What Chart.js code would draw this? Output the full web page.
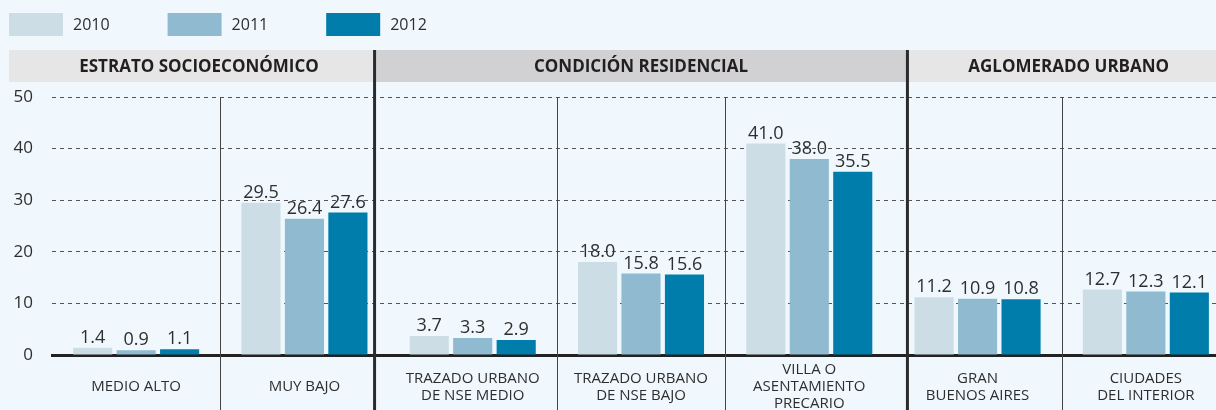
<!DOCTYPE html>
<html>
  <head>
    <meta charset="utf-8" />
    <title>Estrato, condición residencial y aglomerado</title>
    <style>
      body { margin: 0; background: #f0f8fe; overflow: hidden; }
      canvas { display: block; }
    </style>
  </head>
  <body>
    <canvas id="chart" width="1230" height="410"></canvas>
    <script src="https://cdn.jsdelivr.net/npm/chart.js@4.4.0/dist/chart.umd.min.js"></script>
    <script>
      const categories = [
        "MEDIO ALTO",
        "MUY BAJO",
        ["TRAZADO URBANO", "DE NSE MEDIO"],
        ["TRAZADO URBANO", "DE NSE BAJO"],
        ["VILLA O", "ASENTAMIENTO", "PRECARIO"],
        ["GRAN", "BUENOS AIRES"],
        ["CIUDADES", "DEL INTERIOR"],
      ];
      const years = ["2010", "2011", "2012"];
      const vals2010 = [1.4, 29.5, 3.7, 18.0, 41.0, 11.2, 12.7];
      const vals2011 = [0.9, 26.4, 3.3, 15.8, 38.0, 10.9, 12.3];
      const vals2012 = [1.1, 27.6, 2.9, 15.6, 35.5, 10.8, 12.1];
      const yTicks = [0, 10, 20, 30, 40, 50];
      const sections = ["ESTRATO SOCIOECONÓMICO", "CONDICIÓN RESIDENCIAL", "AGLOMERADO URBANO"];

      const colors = ["#cddde5", "#8fbad0", "#007dab"];
      const font = "'Open Sans', sans-serif";
      const textColor = "#2e2e2e";

      // header bands, separators, legend and value labels
      const decor = {
        id: "decor",
        beforeDraw(chart) {
          const ctx = chart.ctx;
          const x = chart.scales.x;
          const cut1 = x.getPixelForValue(1.5) - 14;
          const cut2 = x.getPixelForValue(4.5) + 14;
          const bands = [
            [9, cut1, "#e6e6e7", 199],
            [cut1, cut2, "#d1d1d3", (cut1 + cut2) / 2],
            [cut2, chart.width, "#e6e6e7", (cut2 + chart.width) / 2],
          ];
          ctx.save();
          ctx.font = "bold 17px " + font;
          ctx.textAlign = "center";
          ctx.textBaseline = "middle";
          bands.forEach((b, i) => {
            ctx.fillStyle = b[2];
            ctx.fillRect(b[0], 50, b[1] - b[0], 32);
            ctx.fillStyle = "#231f20";
            ctx.fillText(sections[i], b[3], 67);
          });

          // legend
          let lx = 9;
          ctx.font = "16px " + font;
          ctx.textAlign = "left";
          years.forEach((y, i) => {
            ctx.fillStyle = colors[i];
            ctx.fillRect(lx, 13, 54, 23);
            ctx.fillStyle = textColor;
            ctx.fillText(y, lx + 64, 25);
            lx += 64 + ctx.measureText(y).width + 58;
          });
          ctx.restore();
        },
        afterDraw(chart) {
          const ctx = chart.ctx;
          const x = chart.scales.x;
          const top = chart.chartArea.top;
          ctx.save();
          // thin separators between categories
          ctx.strokeStyle = "#444";
          ctx.lineWidth = 1;
          [0.5, 2.5, 3.5, 5.5].forEach((v) => {
            const px = Math.round(x.getPixelForValue(v)) + 0.5;
            ctx.beginPath();
            ctx.moveTo(px, top);
            ctx.lineTo(px, chart.height);
            ctx.stroke();
          });
          // thick separators between sections
          ctx.strokeStyle = "#2b2b2b";
          ctx.lineWidth = 3;
          [x.getPixelForValue(1.5) - 14, x.getPixelForValue(4.5) + 14].forEach((px) => {
            ctx.beginPath();
            ctx.moveTo(px, 50);
            ctx.lineTo(px, chart.height);
            ctx.stroke();
          });
          // value labels
          ctx.font = "18px " + font;
          ctx.fillStyle = textColor;
          ctx.textAlign = "center";
          ctx.textBaseline = "bottom";
          chart.data.datasets.forEach((ds, i) => {
            chart.getDatasetMeta(i).data.forEach((bar, j) => {
              ctx.fillText(ds.data[j].toFixed(1), bar.x, bar.y - 1);
            });
          });
          ctx.restore();
        },
      };

      const ctx = document.getElementById("chart").getContext("2d");
      const myChart = new Chart(ctx, {
        type: "bar",
        data: {
          labels: categories,
          datasets: [
            { label: years[0], data: vals2010, backgroundColor: colors[0] },
            { label: years[1], data: vals2011, backgroundColor: colors[1] },
            { label: years[2], data: vals2012, backgroundColor: colors[2] },
          ],
        },
        options: {
          responsive: false,
          animation: false,
          layout: { padding: { top: 97, left: 0, right: 0, bottom: 0 } },
          categoryPercentage: 0.775,
          barPercentage: 0.9,
          plugins: { legend: { display: false }, tooltip: { enabled: false } },
          scales: {
            x: {
              grid: { display: false, drawTicks: false },
              border: { display: true, color: "#222", width: 3 },
              ticks: {
                color: textColor,
                font: { family: font, size: 15, lineHeight: "17px" },
                padding: 15,
                crossAlign: "center",
                maxRotation: 0,
                autoSkip: false,
              },
              afterFit(scale) { scale.height = 55; },
            },
            y: {
              min: 0,
              max: 50,
              afterBuildTicks(scale) { scale.ticks = yTicks.map((v) => ({ value: v })); },
              grid: { color: "#555", lineWidth: 1, drawTicks: false },
              border: { display: false, dash: [4, 4] },
              ticks: {
                color: textColor,
                font: { family: font, size: 17 },
                padding: 19,
              },
              afterFit(scale) { scale.width = 52; },
            },
          },
        },
        plugins: [decor],
      });
    </script>
  </body>
</html>
